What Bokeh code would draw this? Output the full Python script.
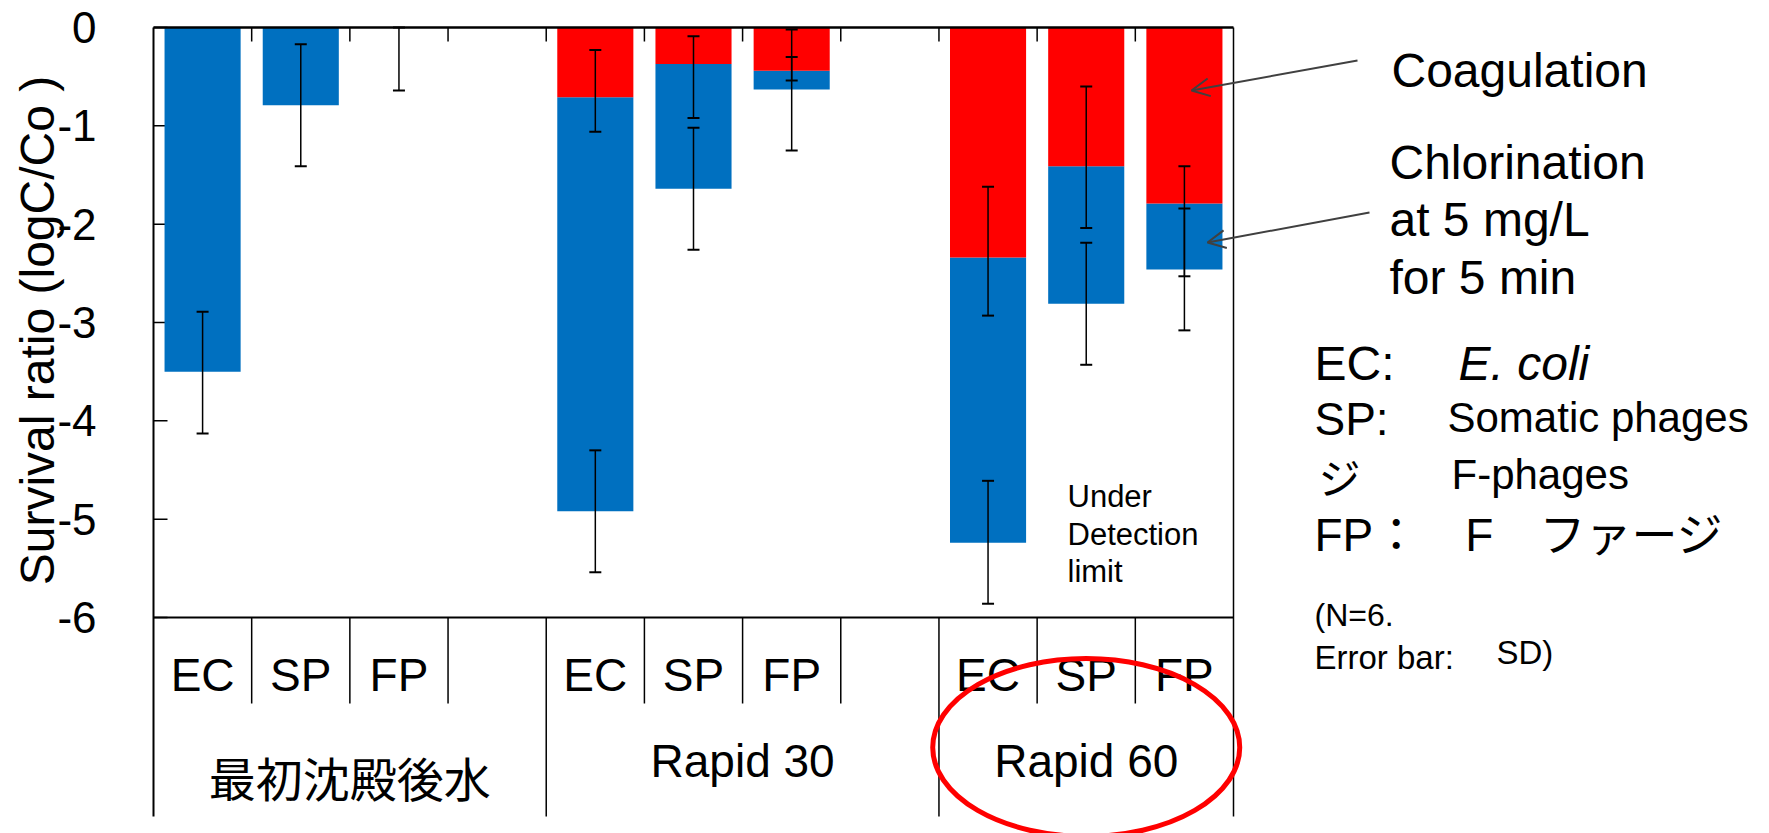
import math

from bokeh.plotting import figure
from bokeh.models import (Range1d, ColumnDataSource, Whisker, TeeHead,
                          Arrow, OpenHead, Label)
from bokeh.core.properties import value
from bokeh.embed import file_html
from bokeh.resources import INLINE

# ---------------------------------------------------------------- data
groups = ["最初沈殿後水", "Rapid 30", "Rapid 60"]
organisms = ["EC", "SP", "FP"]
y_ticks = [0, -1, -2, -3, -4, -5, -6]
y_title = "Survival ratio (logC/Co )"

# log survival ratio after coagulation (Rapid 30 / Rapid 60 only)
coagulation = [-0.71, -0.37, -0.44, -2.34, -1.41, -1.79]
coag_err_upper = [-0.23, -0.09, -0.30, -1.62, -0.60, -1.41]
coag_err_lower = [-1.06, -0.92, -0.54, -2.93, -2.04, -2.53]

# cumulative log survival ratio after chlorination (5 mg/L, 5 min)
chlorination = [-3.50, -0.79, 0.00, -4.92, -1.64, -0.63, -5.24, -2.81, -2.46]
chlor_err_upper = [-2.89, -0.17, 0.00, -4.30, -1.02, -0.02, -4.61, -2.19, -1.84]
chlor_err_lower = [-4.13, -1.41, -0.64, -5.54, -2.26, -1.25, -5.86, -3.43, -3.08]

# ---------------------------------------------------------------- layout
W, H = 1769, 833
LEFT, RIGHT, TOP, BOTTOM = 153, 1233, 27, 617      # chart box in pixels
SLOTS_PER_GROUP = 4
N_SLOTS = 11
slot_px = (RIGHT - LEFT) / N_SLOTS
unit_px = (BOTTOM - TOP) / 6.0


def at_x(px):
    return (px - LEFT) / slot_px


def at_y(py):
    return -(py - TOP) / unit_px


RED = "#FF0000"
BLUE = "#0070C0"
FONT = "Liberation Sans"
CJK = "Noto Sans CJK JP"

# the plotting area spans the whole canvas; slots run along x, log ratio along y
p = figure(width=W, height=H,
           x_range=Range1d(at_x(0), at_x(W)), y_range=Range1d(at_y(H), at_y(0)),
           output_backend="svg", toolbar_location=None,
           x_axis_location=None, y_axis_location=None,
           min_border=0, outline_line_color=None)
p.grid.grid_line_color = None

# ---------------------------------------------------------------- value axis
y_min = min(y_ticks)
p.segment(x0=[0] * len(y_ticks), y0=y_ticks, x1=[14 / slot_px] * len(y_ticks), y1=y_ticks,
          line_color="black", line_width=1.5)
p.text(x=[at_x(96)] * len(y_ticks), y=y_ticks, text=[str(t) for t in y_ticks],
       text_align="right", text_baseline="middle",
       text_font=value(FONT), text_font_size="44px", text_color="black")
p.text(x=[at_x(37)], y=[at_y(330)], text=[y_title], angle=math.pi / 2,
       text_align="center", text_baseline="middle",
       text_font=value(FONT), text_font_size="48px", text_color="black")

# ---------------------------------------------------------------- bars
# group g, organism k -> slot 4g + k
xs = [SLOTS_PER_GROUP * g + k + 0.5 for g in range(len(groups)) for k in range(len(organisms))]
coag_tops = [0.0] * len(organisms) + coagulation      # no coagulation for the first group
bar_w = 0.775

chl = ColumnDataSource(dict(x=xs, top=coag_tops, bottom=chlorination,
                            upper=chlor_err_upper, lower=chlor_err_lower))
coag = ColumnDataSource(dict(x=xs[len(organisms):], top=[0.0] * len(coagulation),
                             bottom=coagulation, upper=coag_err_upper, lower=coag_err_lower))

p.vbar(x="x", top="top", bottom="bottom", width=bar_w, source=chl,
       fill_color=BLUE, line_color=None)
p.vbar(x="x", top="top", bottom="bottom", width=bar_w, source=coag,
       fill_color=RED, line_color=None)

for src in (coag, chl):
    p.add_layout(Whisker(base="x", upper="upper", lower="lower", source=src,
                         line_color="black", line_width=1.5, level="overlay",
                         upper_head=TeeHead(size=12, line_width=2, line_color="black"),
                         lower_head=TeeHead(size=12, line_width=2, line_color="black")))

# ---------------------------------------------------------------- box and table
table_bottom = at_y(816)
row_bottom = at_y(703)
p.segment(x0=[0, 0, N_SLOTS, 0], y0=[0, y_min, 0, 0],
          x1=[N_SLOTS, N_SLOTS, N_SLOTS, 0], y1=[0, y_min, table_bottom, table_bottom],
          line_color="black", line_width=[2.5, 2, 1.5, 2])
inner = list(range(1, N_SLOTS))
p.segment(x0=inner, y0=[0] * len(inner), x1=inner, y1=[-14 / unit_px] * len(inner),
          line_color="black", line_width=1.5)

group_edges = [SLOTS_PER_GROUP * g for g in range(1, len(groups))]
minor_edges = [e for e in inner if e not in group_edges]
p.segment(x0=minor_edges, y0=[y_min] * len(minor_edges), x1=minor_edges,
          y1=[row_bottom] * len(minor_edges), line_color="black", line_width=1.5)
p.segment(x0=group_edges, y0=[y_min] * len(group_edges), x1=group_edges,
          y1=[table_bottom] * len(group_edges), line_color="black", line_width=1.5)

p.text(x=xs, y=[at_y(674)] * len(xs), text=organisms * len(groups),
       text_align="center", text_baseline="middle",
       text_font=value(FONT), text_font_size="46px", text_color="black")

group_x = [min(SLOTS_PER_GROUP * (g + 1), N_SLOTS) / 2 + SLOTS_PER_GROUP * g / 2
           for g in range(len(groups))]
p.text(x=group_x[:1], y=[at_y(776)], text=groups[:1],
       text_align="center", text_baseline="middle",
       text_font=value(CJK), text_font_size="47px", text_color="black")
p.text(x=group_x[1:], y=[at_y(760)] * 2, text=groups[1:],
       text_align="center", text_baseline="middle",
       text_font=value(FONT), text_font_size="46px", text_color="black")

# highlight around the Rapid 60 group
p.ellipse(x=group_x[2], y=at_y(747), width=307 / slot_px, height=178 / unit_px,
          fill_color=None, line_color=RED, line_width=5)


# ---------------------------------------------------------------- notes
def note(px, py, txt, size, font=FONT, style="normal"):
    p.add_layout(Label(x=at_x(px), y=at_y(py), text=txt, text_font=font,
                       text_font_size=size, text_font_style=style,
                       text_baseline="middle", text_align="left", text_color="black"))


note(1067, 496, "Under", "31px")
note(1067, 534, "Detection", "31px")
note(1067, 571, "limit", "31px")

note(1391, 70, "Coagulation", "48px")
note(1389, 162, "Chlorination", "48px")
note(1389, 219, "at 5 mg/L", "48px")
note(1389, 277, "for 5 min", "48px")

note(1314, 363, "EC:", "48px")
note(1458, 363, "E. coli", "48px", style="italic")
note(1314, 418, "SP:", "46px")
note(1447, 417, "Somatic phages", "42px")
note(1318, 475, "ジ", "42px", font=CJK)
note(1451, 474, "F-phages", "42px")
note(1314, 534, "FP：　F　ファージ", "46px", font=f"{FONT}, {CJK}")
note(1314, 614, "(N=6.", "32px")
note(1314, 657, "Error bar:", "33px")
note(1496, 652, "SD)", "33px")

ARROW = "#404040"
for (sx, sy, ex, ey) in [(1357, 60, 1191, 90), (1369, 212, 1207, 242)]:
    p.add_layout(Arrow(x_start=at_x(sx), y_start=at_y(sy), x_end=at_x(ex), y_end=at_y(ey),
                       line_color=ARROW, line_width=2,
                       end=OpenHead(size=18, line_color=ARROW, line_width=2)))

open("out.html", "w").write(file_html(p, INLINE))
